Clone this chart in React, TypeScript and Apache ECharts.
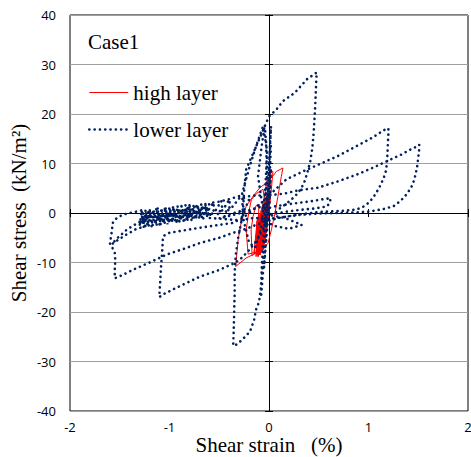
import React, { useEffect, useRef } from "react";
import * as echarts from "echarts";

// Shear strain (%) / shear stress (kN/m2) pairs
const highLayer: [number, number][] = [
  [0, 0], [0.01, 3], [0, 1], [-0.02, -3], [-0.04, -5], [-0.03, -2], [0, 2.5], [0.01, 4.5], [-0.01, 1],
  [-0.04, -4], [-0.07, -7], [-0.06, -4], [-0.03, 0], [0, 4], [0.01, 6], [-0.01, 2], [-0.05, -5],
  [-0.09, -8.5], [-0.08, -5], [-0.05, 0], [-0.02, 3], [0, 6.5], [0.02, 8.75], [0.01, 5], [-0.02, 0],
  [-0.06, -6], [-0.11, -8.8], [-0.1, -4], [-0.07, 1], [-0.04, 4], [-0.01, 7.7], [0.04, 8.4], [0.02, 4],
  [-0.01, -1], [-0.05, -6],
  [-0.13, -8.1], [-0.23, -9.1], [-0.335, -10.8], [-0.31, -5.4], [-0.28, -2], [-0.23, 1.35], [-0.16, 3.4],
  [-0.094, 5.05], [-0.026, 6.1], [0.04, 7.5], [0.074, 8.4], [0.14, 9.1], [0.124, 7.4], [0.09, 3.4],
  [0.057, -0.35], [0.024, -3.4], [-0.01, -6.1], [-0.06, -7.3], [-0.13, -7.9], [-0.21, -8.3],
  [-0.23, -3.4], [-0.2, 0.5], [-0.177, 2.7], [-0.12, 4], [-0.06, 4.8], [-0.03, 1], [-0.05, -4],
  [-0.1, -7.5], [-0.17, -8.6],
  [-0.18, -3.4], [-0.16, -0.7], [-0.13, 1.5], [-0.1, 1.8], [-0.11, -2], [-0.14, -6], [-0.15, -8.2],
  [-0.12, -1.5], [-0.13, -8.8], [-0.11, -1], [-0.12, -8.5], [-0.1, -0.5], [-0.11, -8.8], [-0.09, 0],
  [-0.1, -8.5], [-0.08, 0.5], [-0.09, -8.2], [-0.07, 1], [-0.08, -8], [-0.06, 1.5], [-0.07, -7.8],
  [-0.05, 2], [-0.06, -7.5], [-0.04, 2.5], [-0.05, -7], [-0.03, 3], [-0.04, -6], [-0.02, 3.5],
  [-0.03, -4], [0, 0],
];

const lowerLayer: [number, number][] = [
  [0, 0], [0.01, 4], [0.02, 9], [0.01, 5], [-0.01, -1], [-0.03, -6], [-0.05, -11], [-0.04, -7],
  [-0.02, -1], [0, 6], [0.01, 11], [0.02, 14], [0.01, 9], [-0.01, 2], [-0.03, -5], [-0.06, -12],
  [-0.08, -17], [-0.07, -12], [-0.05, -6], [-0.02, 2], [0, 9], [0.01, 14], [0.02, 17.5], [0.01, 13],
  [-0.01, 5], [-0.03, -2],
  [-0.07, 2], [-0.11, 7.4], [-0.08, 12.5], [-0.043, 17.8], [-0.02, 12], [-0.04, 4], [-0.08, -3],
  [-0.14, -7], [-0.2, -6], [-0.26, -1], [-0.27, 4], [-0.2, 9], [-0.13, 13.5], [-0.06, 17.5],
  [-0.03, 14], [-0.02, 8], [-0.04, 0],
  [-0.06, -6], [-0.07, -10], [-0.08, -14.8], [-0.1, -18], [-0.13, -19.5], [-0.15, -21.6],
  [-0.19, -23.9], [-0.24, -25], [-0.28, -25.8], [-0.33, -26.6], [-0.36, -26.8],
  [-0.355, -24], [-0.35, -20], [-0.345, -16], [-0.345, -12], [-0.335, -8.5], [-0.31, -5], [-0.28, -2],
  [-0.26, 1], [-0.25, 4.5], [-0.23, 8.75], [-0.2, 10.2], [-0.15, 12.5], [-0.1, 14.8], [-0.05, 17.2],
  [0, 19.5], [0.07, 20.8], [0.14, 22.6], [0.26, 24.3], [0.38, 27], [0.48, 28.4],
  [0.475, 27], [0.47, 24], [0.46, 20], [0.45, 16.5], [0.435, 13], [0.415, 10.5], [0.39, 8.5],
  [0.36, 6.5], [0.33, 5.2], [0.29, 4], [0.24, 3], [0.17, 1.8], [0.1, 0.8], [0.03, -0.5],
  [-0.03, -2], [-0.08, -4], [-0.14, -6], [-0.2, -7.5], [-0.27, -9], [-0.345, -10.1], [-0.5, -11.5],
  [-0.7, -12.9], [-0.9, -14.8], [-1, -15.8], [-1.08, -16.6], [-1.1, -17],
  [-1.1, -16], [-1.095, -14.5], [-1.09, -12.5], [-1.085, -10.8], [-1.075, -8.2], [-1.07, -6.5],
  [-1.065, -4.7],
  [-1, -4], [-0.85, -3.5], [-0.7, -3], [-0.5, -2.4], [-0.36, -2], [-0.25, -0.8], [-0.15, 0.8],
  [-0.05, 2.5], [0.05, 4.5], [0.175, 6.8], [0.34, 8.4], [0.5, 9.8], [0.68, 11.4], [0.85, 13.2],
  [1.01, 14.9], [1.1, 16], [1.15, 16.7], [1.2, 17.1],
  [1.2, 16], [1.195, 14], [1.19, 12], [1.186, 10.1], [1.17, 8], [1.14, 6.5], [1.11, 5.2], [1.07, 3.8],
  [1.01, 2.2], [0.95, 1.3], [0.88, 0.7], [0.72, 0.4], [0.5, 0.2], [0.3, -0.3], [0.1, -1], [-0.05, -1.8],
  [-0.26, -3.4], [-0.36, -4], [-0.5, -5], [-0.7, -6.1], [-0.85, -7.2], [-1.03, -8.4], [-1.2, -10],
  [-1.37, -11.5], [-1.47, -12.5], [-1.55, -13.2],
  [-1.55, -11.5], [-1.545, -9.5], [-1.55, -8], [-1.58, -6.8], [-1.6, -6.1], [-1.585, -4.5],
  [-1.57, -2], [-1.53, -1], [-1.47, -0.35], [-1.4, 0],
  [-1.33, 0.3], [-1.27, 0.6], [-1.26, -0.8], [-1.3, -2.3], [-1.25, -1.2], [-1.2, 0.7], [-1.19, -0.9],
  [-1.24, -2.6], [-1.34, -3.3], [-1.42, -4.2], [-1.5, -5.2], [-1.58, -6.3], [-1.52, -5], [-1.42, -3.2],
  [-1.3, -1.8], [-1.2, -0.5], [-1.12, 1], [-1.11, -0.5], [-1.16, -2.1], [-1.1, -1], [-1.04, 1.1],
  [-1.03, -0.4], [-1.08, -1.9], [-1.02, -0.8], [-0.96, 1.3], [-0.95, -0.2], [-1, -1.7], [-0.94, -0.6],
  [-0.88, 1.4], [-0.87, 0], [-0.92, -1.5], [-0.86, -0.4], [-0.8, 1.6], [-0.79, 0.1], [-0.84, -1.3],
  [-0.78, -0.2], [-0.72, 1.7], [-0.71, 0.3], [-0.76, -1.1], [-0.7, 0], [-0.64, 1.9], [-0.63, 0.5],
  [-0.68, -0.9], [-0.62, 0.2], [-0.56, 2.1], [-0.55, 0.7], [-0.6, -0.6], [-0.54, 0.4], [-0.48, 2.4],
  [-0.47, 1], [-0.52, -0.3], [-0.46, 0.7], [-0.4, 2.7], [-0.39, 1.3], [-0.44, 0.1], [-0.37, 1.2],
  [-0.29, 3.2],
  [-0.15, 3.5], [0, 3.6], [0.15, 3.9], [0.3, 4.6], [0.49, 5.1], [0.68, 6.3], [0.9, 7.9], [1.05, 9.2],
  [1.2, 10.6], [1.33, 11.8], [1.42, 12.8], [1.48, 13.4], [1.51, 13.8],
  [1.51, 13], [1.505, 12], [1.5, 11.2], [1.49, 9.5], [1.475, 8], [1.46, 6.7], [1.43, 5.2], [1.38, 3.7],
  [1.32, 2.4], [1.25, 1.35], [1.15, 0.8], [1.01, 0.3], [0.85, 0.1], [0.68, 0], [0.5, -0.1], [0.3, -0.4],
  [0.15, -0.8], [0, -1.2],
  [-0.15, -1], [-0.3, -1.5], [-0.45, -1.2], [-0.6, -1],
  [-0.61, -0.4], [-0.63, 1.5], [-0.65, -0.6], [-0.67, 1.4], [-0.69, -0.9], [-0.71, 1.3], [-0.73, -1],
  [-0.75, 1.2], [-0.77, -1.2], [-0.79, 1], [-0.81, -1.3], [-0.83, 1], [-0.85, -1.5], [-0.87, 0.8],
  [-0.89, -1.6], [-0.91, 0.7], [-0.93, -1.8], [-0.95, 0.6], [-0.97, -1.9], [-0.99, 0.5], [-1.01, -2.1],
  [-1.03, 0.4], [-1.05, -2.2], [-1.07, 0.3], [-1.09, -2.4], [-1.11, 0.2], [-1.13, -2.5], [-1.15, 0.1],
  [-1.17, -2.6], [-1.19, 0], [-1.21, -2.7], [-1.23, -0.1], [-1.25, -2.8], [-1.27, -0.3],
  [-1.3, -2.6], [-1.28, 0.5], [-1.26, -2.9], [-1.24, 0.7], [-1.22, -2.6], [-1.2, 0.9], [-1.18, -2.8],
  [-1.16, 0.8], [-1.14, -2.4], [-1.12, 1.1], [-1.1, -2.5], [-1.08, 1], [-1.06, -2.2], [-1.04, 1.2],
  [-1.02, -2.3], [-1, 1.3], [-0.98, -2], [-0.96, 1.2], [-0.94, -2], [-0.92, 1.5], [-0.9, -1.8],
  [-0.88, 1.4], [-0.86, -1.7], [-0.84, 1.6], [-0.82, -1.5], [-0.8, 1.7], [-0.78, -1.5], [-0.76, 1.6],
  [-0.74, -1.3], [-0.72, 1.8], [-0.7, -1.2], [-0.68, 1.9], [-0.66, -1.1], [-0.64, 1.8], [-0.62, -1],
  [-0.6, 2],
  [-0.5, 2.3], [-0.4, 2.8], [-0.3, 3.4], [-0.2, 2.6], [-0.25, 0.6], [-0.4, -0.3], [-0.5, -1.1],
  [-0.4, -0.6], [-0.25, 0.2], [-0.1, 1.2], [0, 1],
  [0.05, 1.3], [0.2, 1.8], [0.4, 2.3], [0.55, 2.8], [0.62, 3], [0.61, 2], [0.58, 1.3], [0.45, 0.9],
  [0.3, 0.6], [0.15, 0.2], [0, -0.4], [0.16, -1], [0.33, -2.4], [0.2, -3.2], [0.05, -2.6],
  [-0.1, -0.8],
];

const seriesNames = ["high layer", "lower layer"];
const caseLabel = "Case1";
const xTitle = "Shear strain\u00a0\u00a0 (%)";
const yTitle = "Shear stress\u00a0 (kN/m\u00b2)";

const SERIF = "Liberation Serif";
const SANS = "Open Sans";

const axisBase = (min: number, max: number, interval: number) => ({
  type: "value" as const,
  min,
  max,
  interval,
});

const serifStyle = () => ({
  fontFamily: SERIF,
  fontSize: 21,
  color: "#000",
  fontWeight: "normal" as const,
});

export default function App() {
  const ref = useRef<HTMLDivElement>(null);
  useEffect(() => {
    if (!ref.current) return;
    const chart = echarts.init(ref.current, null, { renderer: "svg" });
    chart.setOption({
      animation: false,
      textStyle: { fontFamily: SERIF },
      title: {
        text: caseLabel,
        left: 88,
        top: 31,
        padding: 0,
        textStyle: serifStyle(),
      },
      legend: {
        orient: "vertical",
        left: 88,
        top: 82,
        padding: 0,
        itemWidth: 39,
        itemHeight: 14,
        itemGap: 16,
        textStyle: serifStyle(),
        data: [
          { name: seriesNames[0], lineStyle: { width: 1 }, itemStyle: { opacity: 0 } },
          { name: seriesNames[1], lineStyle: { width: 2.6 }, itemStyle: { opacity: 0 } },
        ],
      },
      grid: {
        left: 70,
        top: 15,
        right: 3,
        bottom: 46,
        containLabel: false,
        outerBoundsMode: "none",
        show: true,
        borderColor: "#000",
        borderWidth: 1,
      },
      xAxis: [
        {
          ...axisBase(-2, 2, 1),
          position: "bottom",
          axisLine: { show: false, onZero: false },
          axisTick: { show: false },
          splitLine: { show: false },
          axisLabel: { margin: 9, fontFamily: SANS, fontSize: 13, lineHeight: 13, color: "#000" },
          name: xTitle,
          nameLocation: "middle",
          nameGap: 26,
          nameMoveOverlap: false,
          nameTextStyle: { ...serifStyle(), lineHeight: 16 },
        },
        {
          ...axisBase(-2, 2, 1),
          position: "bottom",
          axisLine: { show: true, onZero: true, onZeroAxisIndex: 0, lineStyle: { color: "#000", width: 1 } },
          axisTick: { show: true, length: 4, lineStyle: { color: "#000" } },
          axisLabel: { show: false },
          splitLine: { show: false },
        },
        {
          ...axisBase(-2, 2, 1),
          position: "bottom",
          axisLine: { show: false, onZero: true, onZeroAxisIndex: 0 },
          axisTick: { show: true, inside: true, length: 4, lineStyle: { color: "#000" } },
          axisLabel: { show: false },
          splitLine: { show: false },
        },
      ],
      yAxis: [
        {
          ...axisBase(-40, 40, 10),
          position: "left",
          axisLine: { show: false, onZero: false },
          axisTick: { show: false },
          splitLine: { show: true, lineStyle: { color: "#a0a0a0", width: 1 } },
          axisLabel: { margin: 14, fontFamily: SANS, fontSize: 13, color: "#000" },
          name: yTitle,
          nameLocation: "middle",
          nameGap: 41,
          nameMoveOverlap: false,
          nameRotate: 90,
          nameTextStyle: serifStyle(),
        },
        {
          ...axisBase(-40, 40, 10),
          position: "left",
          axisLine: { show: true, onZero: true, onZeroAxisIndex: 0, lineStyle: { color: "#000", width: 1 } },
          axisTick: { show: true, length: 4, lineStyle: { color: "#000" } },
          axisLabel: { show: false },
          splitLine: { show: false },
        },
        {
          ...axisBase(-40, 40, 10),
          position: "left",
          axisLine: { show: false, onZero: true, onZeroAxisIndex: 0 },
          axisTick: { show: true, inside: true, length: 4, lineStyle: { color: "#000" } },
          axisLabel: { show: false },
          splitLine: { show: false },
        },
      ],
      series: [
        {
          name: seriesNames[0],
          type: "line",
          xAxisIndex: 0,
          yAxisIndex: 0,
          data: highLayer,
          symbol: "none",
          z: 3,
          lineStyle: { color: "#ff0000", width: 1 },
          itemStyle: { color: "#ff0000" },
        },
        {
          name: seriesNames[1],
          type: "line",
          xAxisIndex: 0,
          yAxisIndex: 0,
          data: lowerLayer,
          symbol: "none",
          z: 4,
          lineStyle: { color: "#002060", width: 2.6, type: [0.1, 5.2], cap: "round" },
          itemStyle: { color: "#002060" },
        },
      ],
    });
    return () => chart.dispose();
  }, []);
  return (
    <div
      ref={ref}
      style={{ position: "absolute", left: 0, top: 0, width: 471, height: 457 }}
    />
  );
}
